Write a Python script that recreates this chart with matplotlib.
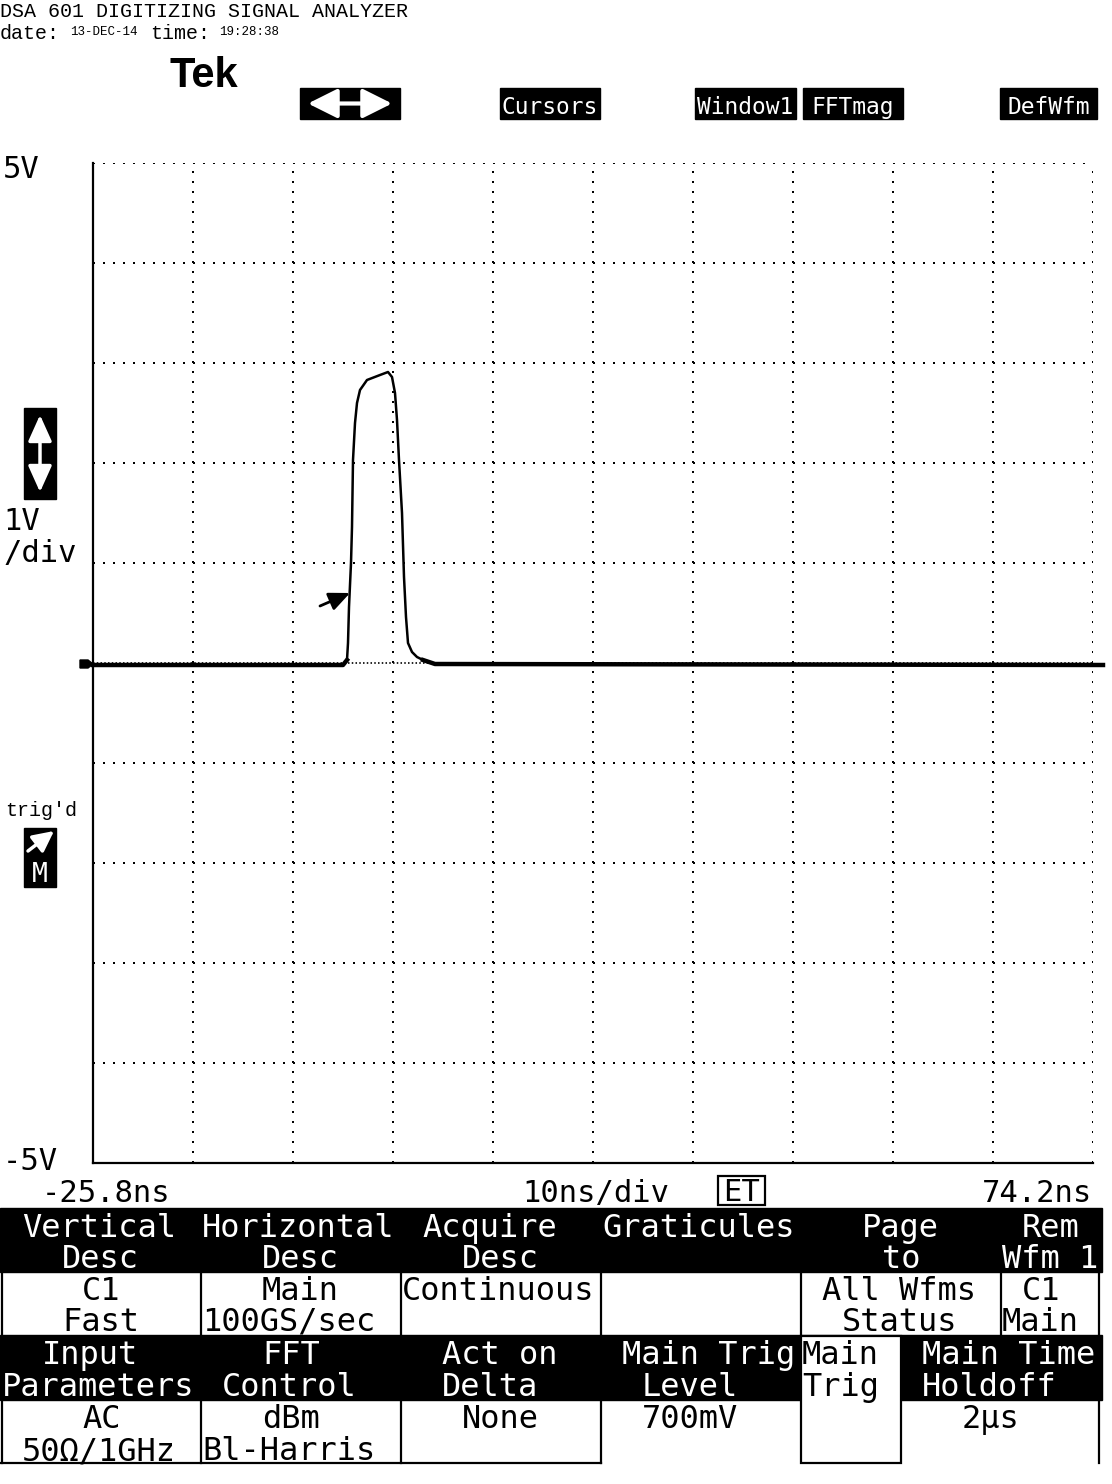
import numpy as np
import matplotlib
matplotlib.use('Agg')
import matplotlib.pyplot as plt
from matplotlib.patches import Rectangle, Polygon

plt.rcParams['lines.scale_dashes'] = False

W, H = 1112, 1484
MONO = 'DejaVu Sans Mono'
COUR = 'Liberation Mono'

# pulse (ns, V)
wave_t = [-25.8, -0.8, -0.4, -0.3, -0.2, 0.0, 0.1, 0.2, 0.4, 0.6, 0.9, 1.6, 2.9, 3.7,
          4.1, 4.4, 4.6, 4.8, 5.1, 5.3, 5.5, 5.7, 6.1, 6.6, 7.2, 8.4, 75.2]
wave_v = [-0.02, -0.02, 0.03, 0.2, 0.56, 1.0, 1.36, 2.03, 2.4, 2.6, 2.73, 2.83, 2.88, 2.91,
          2.86, 2.7, 2.43, 2.03, 1.5, 0.86, 0.46, 0.2, 0.11, 0.06, 0.03, -0.01, -0.02]
t_left, t_right = -25.8, 74.2
v_bot, v_top = -5, 5
trig_level = 0.7

header = 'DSA 601 DIGITIZING SIGNAL ANALYZER'
date_str = '13-DEC-14'
time_str = '19:28:38'
top_buttons = [(500, 100, 'Cursors'), (695, 101, 'Window1'), (803, 100, 'FFTmag'), (1000, 97, 'DefWfm')]
left_labels = [(178, '5V'), (530, '1V'), (562, '/div'), (1170, '-5V')]
bottom_labels = [(2, '-25.8ns'), (26, '10ns/div'), (49, '74.2ns')]

# menu text: (line, column, text)
menu_items = [
    (0, 1, 'Vertical'), (0, 10, 'Horizontal'), (0, 21, 'Acquire'), (0, 30, 'Graticules'),
    (0, 43, 'Page'), (0, 51, 'Rem'),
    (1, 3, 'Desc'), (1, 13, 'Desc'), (1, 23, 'Desc'), (1, 44, 'to'), (1, 50, 'Wfm 1'),
    (2, 4, 'C1'), (2, 13, 'Main'), (2, 20, 'Continuous'), (2, 41, 'All Wfms'), (2, 51, 'C1'),
    (3, 3, 'Fast'), (3, 10, '100GS/sec'), (3, 42, 'Status'), (3, 50, 'Main'),
    (4, 2, 'Input'), (4, 13, 'FFT'), (4, 22, 'Act on'), (4, 31, 'Main Trig'),
    (4, 40, 'Main'), (4, 46, 'Main Time'),
    (5, 0, 'Parameters'), (5, 11, 'Control'), (5, 22, 'Delta'), (5, 32, 'Level'),
    (5, 40, 'Trig'), (5, 46, 'Holdoff'),
    (6, 4, 'AC'), (6, 13, 'dBm'), (6, 23, 'None'), (6, 32, '700mV'), (6, 48, '2μs'),
    (7, 1, '50Ω/1GHz'), (7, 10, 'Bl-Harris'),
]
line_base = [1237, 1268, 1300, 1331, 1364, 1396, 1428, 1460]

fig = plt.figure(figsize=(W / 100, H / 100), dpi=100)
fig.patch.set_facecolor('white')

# overlay in pixel coords for the screen furniture
ov = fig.add_axes([0, 0, 1, 1])
ov.set_xlim(0, W)
ov.set_ylim(H, 0)
ov.axis('off')

ov.text(0, 17, header, family=COUR, fontsize=14.4, va='baseline')
ov.text(0, 39, 'date:', family=COUR, fontsize=14.4, va='baseline')
ov.text(70, 35, date_str, family=COUR, fontsize=9, va='baseline')
ov.text(150, 39, 'time:', family=COUR, fontsize=14.4, va='baseline')
ov.text(219, 35, time_str, family=COUR, fontsize=9, va='baseline')
ov.text(170, 87, 'Tek', family='Liberation Sans', fontweight='bold', fontsize=30, va='baseline')

# header buttons
ov.add_patch(Rectangle((300, 88), 100, 31, color='k'))
ov.annotate('', xy=(392, 103.5), xytext=(308, 103.5),
            arrowprops=dict(arrowstyle='<|-|>,head_length=1.0,head_width=0.5',
                            color='white', lw=3, mutation_scale=18, shrinkA=0, shrinkB=0))
for x0, w, s in top_buttons:
    ov.add_patch(Rectangle((x0, 88), w, 31, color='k'))
    ov.text(x0 + w / 2, 114, s, family=MONO, fontsize=16.5, color='white', ha='center', va='baseline')

# left side indicators
for yb, s in left_labels:
    ov.text(3, yb, s, family=MONO, fontsize=22, va='baseline')
ov.add_patch(Rectangle((24, 408), 32, 91, color='k'))
ov.annotate('', xy=(40, 492), xytext=(40, 415),
            arrowprops=dict(arrowstyle='<|-|>,head_length=1.0,head_width=0.45',
                            color='white', lw=2.5, mutation_scale=16, shrinkA=0, shrinkB=0))
ov.text(5, 816, "trig'd", family=COUR, fontsize=14.4, va='baseline')
ov.add_patch(Rectangle((24, 828), 32, 59, color='k'))
ov.annotate('', xy=(54, 831), xytext=(28, 851),
            arrowprops=dict(arrowstyle='-|>,head_length=0.9,head_width=0.45',
                            color='white', lw=2.5, mutation_scale=14, shrinkA=0, shrinkB=0))
ov.text(40, 882, 'M', family=MONO, fontsize=19, color='white', ha='center', va='baseline')
ov.add_patch(Polygon([(80, 660), (88, 660), (93, 664), (88, 668), (80, 668)], color='k'))

# time labels under the graticule
for col, s in bottom_labels:
    ov.text(2 + col * 20, 1202, s, family=MONO, fontsize=22, va='baseline')
ov.add_patch(Rectangle((718, 1176), 47, 29, fc='white', ec='k', lw=1.6))
ov.text(741.5, 1201, 'ET', family=MONO, fontsize=22, ha='center', va='baseline')

# menu
ov.add_patch(Rectangle((0, 1208), 1102, 64, color='k'))
ov.add_patch(Rectangle((0, 1335), 1102, 65, color='k'))
ov.add_patch(Rectangle((801, 1336), 100, 127, fc='white', ec='k', lw=1.6))
for x in [2, 201, 401, 601, 801, 1001, 1099]:
    ov.plot([x, x], [1272, 1335], color='k', lw=1.6)
for x in [2, 201, 401, 601, 1099]:
    ov.plot([x, x], [1400, 1463], color='k', lw=1.6)
ov.plot([1, 601], [1463, 1463], color='k', lw=1.6)
for line, col, s in menu_items:
    dark = line in (0, 1, 4, 5) and not (line in (4, 5) and col == 40)
    ov.text(2 + col * 20, line_base[line], s, family=MONO, fontsize=23,
            color='white' if dark else 'k', va='baseline')

# graticule + waveform
ax = fig.add_axes([93 / W, (H - 1163) / H, 1000 / W, 1000 / H])
ax.patch.set_alpha(0)
ax.set_xlim(t_left, t_right)
ax.set_ylim(v_bot, v_top)
ax.set_xticks([])
ax.set_yticks([])
for side in ['top', 'right']:
    ax.spines[side].set_visible(False)
for side in ['left', 'bottom']:
    ax.spines[side].set_linewidth(1.6)

dot = (0, (1.44, 5.76))
for t in t_left + 10 * np.arange(1, 11):
    ax.axvline(t, color='k', lw=1.44, linestyle=dot, dash_capstyle='butt')
for v in [-4, -3, -2, -1, 1, 2, 3, 4, 5]:
    ax.axhline(v, color='k', lw=1.44, linestyle=dot, dash_capstyle='butt')
ax.axhline(0, color='k', lw=1.2, linestyle=(0, (1.1, 1.6)), dash_capstyle='butt')

wt = np.array(wave_t)
wv = np.array(wave_v)
ax.plot(wt, wv, color='k', lw=1.8, clip_on=False)
ax.plot(wt, np.where(np.abs(wv) < 0.05, wv, np.nan), color='k', lw=3.2, clip_on=False)

ax.annotate('', xy=(-0.1, trig_level), xytext=(-3.1, 0.57),
            arrowprops=dict(arrowstyle='-|>,head_length=0.9,head_width=0.4',
                            color='k', lw=2, mutation_scale=14, shrinkA=0, shrinkB=0))

fig.savefig('out.png', dpi=100)
